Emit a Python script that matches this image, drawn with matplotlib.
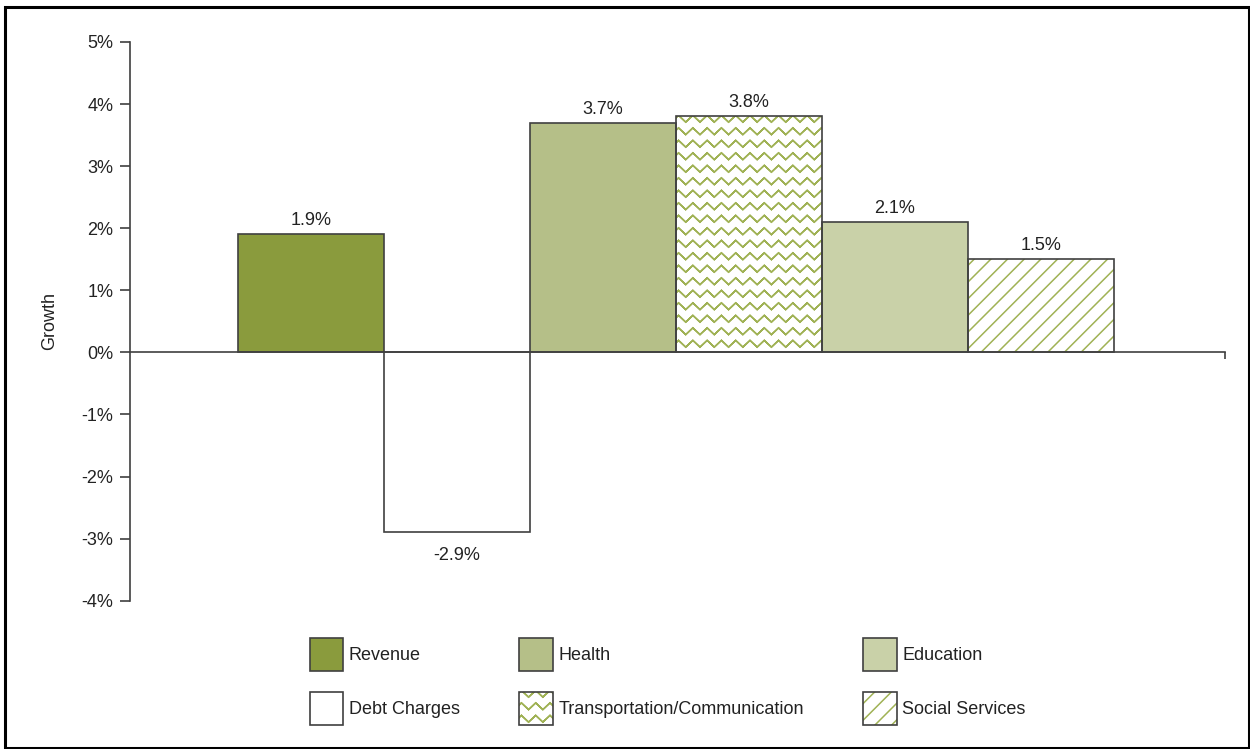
import numpy as np
import matplotlib
matplotlib.use('Agg')
from matplotlib import pyplot as plt
import matplotlib.hatch as mhatch
from matplotlib.path import Path
from matplotlib.patches import Patch, Rectangle

categories = ['Revenue', 'Debt Charges', 'Health', 'Transportation/Communication',
              'Education', 'Social Services']
growth = [1.9, -2.9, 3.7, 3.8, 2.1, 1.5]
labels = ['1.9%', '-2.9%', '3.7%', '3.8%', '2.1%', '1.5%']
yticks = [-4, -3, -2, -1, 0, 1, 2, 3, 4, 5]

fills = ['#8a9b3d', 'white', '#b5bf88', 'white', '#c9d1a8', 'white']
hatches = [None, None, None, 'z', None, '//']
hatch_green = '#a0b255'
edge = '#404040'
txt = '#222222'


class ZigZagHatch(mhatch.HatchPatternBase):
    """wavy zigzag rows, 'z' in a hatch string"""
    def __init__(self, hatch, density):
        self.rows = int(hatch.count('z') * density * 4 / 3)
        self.teeth = 7
        self.n = 2 * self.teeth + 1
        # each row goes out and back so the fill has no area
        self.num_vertices = self.rows * 2 * self.n

    def set_vertices_and_codes(self, vertices, codes):
        n = self.n
        xs = np.linspace(0, 1, n)
        amp = 0.27 / max(self.rows, 1)
        k = 0
        for r in range(self.rows):
            y0 = (r + 0.5) / self.rows
            ys = y0 + np.where(np.arange(n) % 2 == 0, -amp, amp)
            pts = np.column_stack([xs, ys])
            vertices[k:k + n] = pts
            vertices[k + n:k + 2 * n] = pts[::-1]
            codes[k] = Path.MOVETO
            codes[k + 1:k + 2 * n] = Path.LINETO
            k += 2 * n


mhatch._hatch_types.append(ZigZagHatch)

plt.rcParams['font.family'] = ['Liberation Sans', 'DejaVu Sans']
plt.rcParams['hatch.linewidth'] = 1.1

fig = plt.figure(figsize=(12.5, 7.49), dpi=100)
ax = fig.add_axes([0.104, 0.198, 0.876, 0.746])

x = np.arange(len(categories))
handles = []
for xi, v, fc, h in zip(x, growth, fills, hatches):
    ax.bar(xi, v, width=1.0, color=fc, edgecolor=hatch_green, hatch=h,
           linewidth=0, zorder=2)
    ax.bar(xi, v, width=1.0, color='none', edgecolor=edge, linewidth=1.2, zorder=3)
    outline = Patch(facecolor='none', edgecolor=edge, linewidth=1.2)
    body = Patch(facecolor=fc, edgecolor=hatch_green, hatch=h, linewidth=0)
    handles.append((body, outline))

for xi, v, t in zip(x, growth, labels):
    off = 0.08 if v >= 0 else -0.24
    ax.text(xi, v + off, t, ha='center', va='bottom' if v >= 0 else 'top',
            fontsize=13, color=txt)

ax.set_xlim(-1.24, 6.26)
ax.set_ylim(-4, 5)
ax.set_yticks(yticks)
ax.set_yticklabels([f'{t}%' for t in yticks], fontsize=13, color=txt)
ax.set_ylabel('Growth', fontsize=13, color=txt, labelpad=17)
ax.tick_params(axis='y', direction='out', length=7, width=1.2, color=edge, pad=5)

ax.set_xticks([6.26])
ax.set_xticklabels([''])
ax.tick_params(axis='x', direction='out', length=5, width=1.2, color=edge)

ax.spines['top'].set_visible(False)
ax.spines['right'].set_visible(False)
ax.spines['bottom'].set_position(('data', 0))
ax.spines['bottom'].set_zorder(4)
for s in ['left', 'bottom']:
    ax.spines[s].set_color(edge)
    ax.spines[s].set_linewidth(1.2)

# ncol=3 fills column by column: Revenue/Debt, Health/Transport, Education/Social
leg = fig.legend(handles, categories,
                 ncol=3, loc='upper left', bbox_to_anchor=(0.248, 0.148),
                 frameon=False, fontsize=13, handlelength=1.85, handleheight=2.45,
                 handletextpad=0.3, columnspacing=3.3, labelspacing=1.15,
                 borderpad=0, borderaxespad=0)
for t in leg.get_texts():
    t.set_color(txt)

fig.patches.append(Rectangle((0.004, 0.002), 0.995, 0.988, transform=fig.transFigure,
                             fill=False, edgecolor='black', linewidth=2.2))

fig.savefig('out.png', dpi=100)
